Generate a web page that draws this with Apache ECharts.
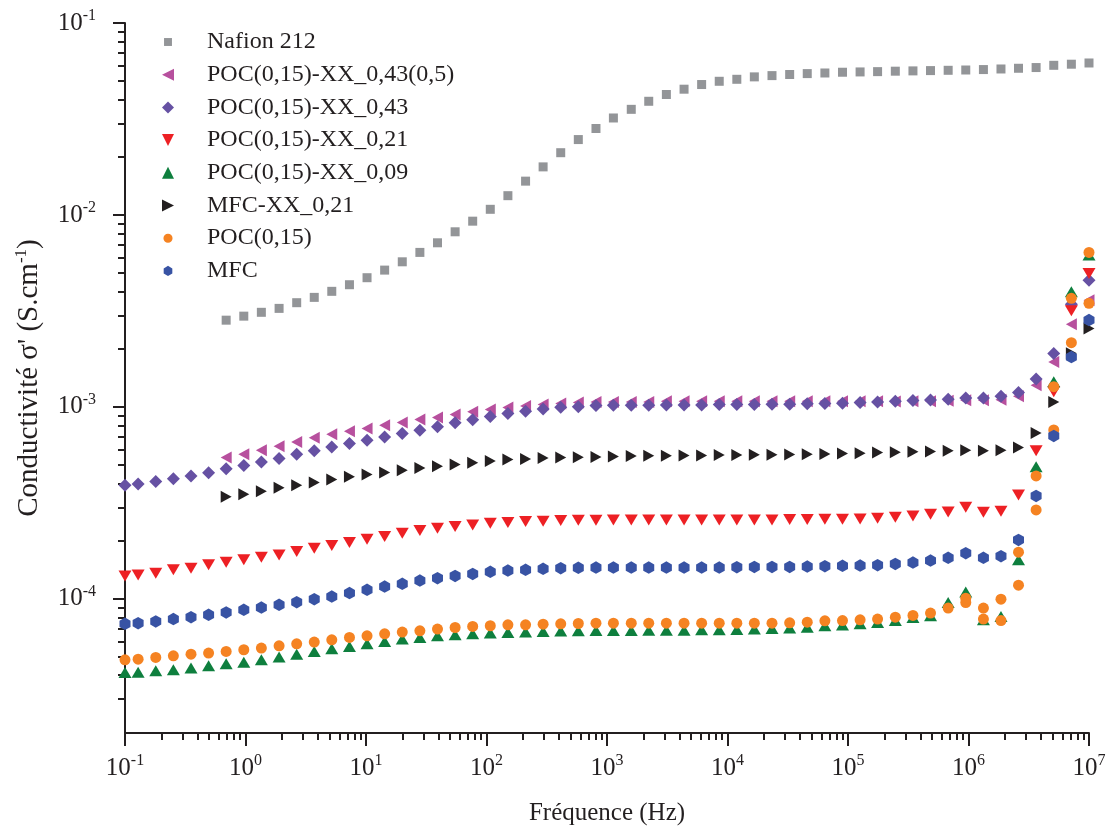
<!DOCTYPE html>
<html><head><meta charset="utf-8">
<script src="https://cdn.jsdelivr.net/npm/echarts@6/dist/echarts.min.js"></script>
<style>html,body{margin:0;padding:0;background:#fff}#c{width:1111px;height:830px}</style>
</head><body><div id="c"></div>
<script>
const FONT = 'Liberation Serif';
const INK = '#231F20';

// Measurement frequencies (Hz)
const frequencies = [0.1, 0.1285, 0.180, 0.252, 0.353, 0.494, 0.691, 0.968, 1.354, 1.90,
  2.66, 3.72, 5.20, 7.29, 10.2, 14.28, 20.0, 28.0, 39.2, 54.9,
  76.8, 107.5, 150.5, 211, 295, 413, 578, 810, 1130, 1590,
  2220, 3110, 4360, 6100, 8540, 11950, 16700, 23400, 32800, 45900,
  64300, 90000, 126000, 176000, 247000, 346000, 484000, 678000, 949000, 1330000,
  1860000, 2600000, 3640000, 5100000, 7140000, 10000000];

// Conductivity (S/cm). Series marked "from index 6" start at frequencies[6].
const nafion212 = [2.83e-3,2.97e-3,3.11e-3,3.26e-3,3.49e-3,3.72e-3,4.00e-3,4.33e-3,4.71e-3,5.16e-3,
  5.70e-3,6.38e-3,7.16e-3,8.17e-3,9.28e-3,1.07e-2,1.26e-2,1.50e-2,1.78e-2,2.11e-2,
  2.47e-2,2.82e-2,3.20e-2,3.55e-2,3.91e-2,4.24e-2,4.52e-2,4.78e-2,4.97e-2,5.09e-2,
  5.24e-2,5.32e-2,5.39e-2,5.45e-2,5.49e-2,5.54e-2,5.56e-2,5.58e-2,5.61e-2,5.63e-2,
  5.65e-2,5.67e-2,5.69e-2,5.72e-2,5.76e-2,5.81e-2,5.86e-2,6.02e-2,6.10e-2,6.19e-2]; // from index 6

const pocXX043_05 = [5.45e-4,5.67e-4,5.95e-4,6.24e-4,6.57e-4,6.90e-4,7.21e-4,7.47e-4,7.72e-4,8.03e-4,
  8.29e-4,8.60e-4,8.81e-4,9.13e-4,9.42e-4,9.69e-4,9.93e-4,1.012e-3,1.029e-3,1.041e-3,
  1.054e-3,1.062e-3,1.06e-3,1.06e-3,1.06e-3,1.07e-3,1.07e-3,1.07e-3,1.07e-3,1.07e-3,
  1.07e-3,1.07e-3,1.07e-3,1.07e-3,1.07e-3,1.07e-3,1.07e-3,1.07e-3,1.067e-3,1.071e-3,
  1.071e-3,1.077e-3,1.084e-3,1.084e-3,1.090e-3,1.137e-3,1.297e-3,1.715e-3,2.695e-3,3.593e-3]; // from index 6

const pocXX043 = [3.91e-4,3.97e-4,4.09e-4,4.22e-4,4.37e-4,4.54e-4,4.76e-4,4.95e-4,5.17e-4,5.38e-4,
  5.66e-4,5.90e-4,6.18e-4,6.45e-4,6.71e-4,6.97e-4,7.27e-4,7.56e-4,7.87e-4,8.26e-4,
  8.58e-4,8.91e-4,9.24e-4,9.50e-4,9.75e-4,9.96e-4,1.002e-3,1.018e-3,1.021e-3,1.021e-3,
  1.021e-3,1.024e-3,1.024e-3,1.024e-3,1.029e-3,1.029e-3,1.029e-3,1.033e-3,1.033e-3,1.037e-3,
  1.041e-3,1.045e-3,1.054e-3,1.062e-3,1.071e-3,1.080e-3,1.087e-3,1.097e-3,1.114e-3,1.114e-3,
  1.137e-3,1.188e-3,1.399e-3,1.897e-3,3.424e-3,4.566e-3];

const pocXX021 = [1.317e-4,1.333e-4,1.360e-4,1.416e-4,1.445e-4,1.503e-4,1.552e-4,1.596e-4,1.648e-4,1.694e-4,
  1.763e-4,1.836e-4,1.895e-4,1.964e-4,2.046e-4,2.110e-4,2.198e-4,2.268e-4,2.334e-4,2.379e-4,
  2.428e-4,2.478e-4,2.496e-4,2.526e-4,2.538e-4,2.556e-4,2.568e-4,2.568e-4,2.577e-4,2.577e-4,
  2.577e-4,2.577e-4,2.577e-4,2.577e-4,2.577e-4,2.577e-4,2.577e-4,2.577e-4,2.587e-4,2.587e-4,
  2.599e-4,2.599e-4,2.609e-4,2.631e-4,2.663e-4,2.704e-4,2.760e-4,2.837e-4,3.001e-4,2.827e-4,
  2.861e-4,3.478e-4,5.916e-4,1.200e-3,3.17e-3,4.96e-3];

const pocXX009 = [4.13e-5,4.15e-5,4.22e-5,4.27e-5,4.36e-5,4.48e-5,4.59e-5,4.68e-5,4.81e-5,4.97e-5,
  5.15e-5,5.32e-5,5.49e-5,5.65e-5,5.83e-5,5.99e-5,6.17e-5,6.29e-5,6.42e-5,6.50e-5,
  6.57e-5,6.63e-5,6.68e-5,6.71e-5,6.76e-5,6.79e-5,6.81e-5,6.84e-5,6.84e-5,6.84e-5,
  6.87e-5,6.87e-5,6.87e-5,6.90e-5,6.90e-5,6.92e-5,6.96e-5,7.00e-5,7.04e-5,7.12e-5,
  7.24e-5,7.30e-5,7.41e-5,7.53e-5,7.71e-5,7.99e-5,8.16e-5,9.57e-5,1.087e-4,7.77e-5,
  8.09e-5,1.596e-4,4.884e-4,1.353e-3,3.979e-3,6.176e-3];

const mfcXX021 = [3.40e-4,3.51e-4,3.64e-4,3.79e-4,3.91e-4,4.04e-4,4.19e-4,4.32e-4,4.45e-4,4.55e-4,
  4.68e-4,4.81e-4,4.91e-4,5.01e-4,5.11e-4,5.23e-4,5.32e-4,5.36e-4,5.41e-4,5.45e-4,
  5.47e-4,5.49e-4,5.52e-4,5.54e-4,5.56e-4,5.56e-4,5.58e-4,5.58e-4,5.61e-4,5.61e-4,
  5.63e-4,5.63e-4,5.65e-4,5.67e-4,5.69e-4,5.72e-4,5.74e-4,5.79e-4,5.81e-4,5.83e-4,
  5.86e-4,5.90e-4,5.95e-4,5.90e-4,5.95e-4,6.15e-4,7.32e-4,1.062e-3,1.904e-3,2.559e-3]; // from index 6

const poc015 = [4.81e-5,4.85e-5,4.95e-5,5.05e-5,5.15e-5,5.22e-5,5.32e-5,5.43e-5,5.54e-5,5.69e-5,
  5.83e-5,5.95e-5,6.12e-5,6.29e-5,6.42e-5,6.57e-5,6.71e-5,6.81e-5,6.96e-5,7.09e-5,
  7.18e-5,7.24e-5,7.32e-5,7.32e-5,7.38e-5,7.41e-5,7.44e-5,7.47e-5,7.47e-5,7.47e-5,
  7.47e-5,7.47e-5,7.47e-5,7.47e-5,7.47e-5,7.47e-5,7.47e-5,7.47e-5,7.50e-5,7.56e-5,
  7.68e-5,7.71e-5,7.77e-5,7.84e-5,8.03e-5,8.19e-5,8.43e-5,8.95e-5,1.008e-4,8.95e-5,
  9.96e-5,1.750e-4,4.368e-4,1.274e-3,3.676e-3,6.38e-3];
const poc015Repeat = [9.57e-5,7.84e-5,7.71e-5,1.178e-4,2.906e-4,7.58e-4,2.159e-3,3.462e-3]; // from index 48

const mfc = [7.41e-5,7.47e-5,7.62e-5,7.84e-5,8.03e-5,8.26e-5,8.49e-5,8.77e-5,9.01e-5,9.31e-5,
  9.61e-5,9.96e-5,1.028e-4,1.071e-4,1.114e-4,1.159e-4,1.197e-4,1.245e-4,1.282e-4,1.317e-4,
  1.349e-4,1.382e-4,1.404e-4,1.416e-4,1.433e-4,1.445e-4,1.450e-4,1.455e-4,1.455e-4,1.455e-4,
  1.455e-4,1.455e-4,1.455e-4,1.455e-4,1.455e-4,1.462e-4,1.467e-4,1.467e-4,1.467e-4,1.473e-4,
  1.480e-4,1.485e-4,1.490e-4,1.497e-4,1.521e-4,1.545e-4,1.582e-4,1.635e-4,1.729e-4,1.635e-4,
  1.668e-4,2.028e-4,3.437e-4,7.056e-4,1.819e-3,2.834e-3];

const xMajorTicks = [0.1, 1, 10, 100, 1e3, 1e4, 1e5, 1e6, 1e7];
const yMajorTicks = [1e-4, 1e-3, 1e-2, 1e-1];
const minorMultipliers = [2, 3, 4, 5, 6, 7, 8, 9];
const xMinorTicks = [], yMinorTicks = [];
[0.1, 1, 10, 100, 1e3, 1e4, 1e5, 1e6].forEach(d => minorMultipliers.forEach(m => xMinorTicks.push(+(d * m).toPrecision(3))));
[1e-5, 1e-4, 1e-3, 1e-2].forEach(d => minorMultipliers.forEach(m => { const v = +(d * m).toPrecision(3); if (v > 2.05e-5) yMinorTicks.push(v); }));

function pairs(start, vals) { return vals.map((v, k) => [frequencies[start + k], v]); }

const HEX = 'path://M50,0 L93.3,25 L93.3,75 L50,100 L6.7,75 L6.7,25 Z';
const TRI_UP = 'path://M50,0 L100,100 L0,100 Z';
const TRI_DOWN = 'path://M0,0 L100,0 L50,100 Z';
const TRI_LEFT = 'path://M0,50 L100,0 L100,100 Z';
const TRI_RIGHT = 'path://M0,0 L100,50 L0,100 Z';
// legend-only icons padded so they draw smaller inside the legend box
const LEG_RECT = 'path://M0,0 M100,100 M17,17 L83,17 L83,83 L17,83 Z';
const LEG_CIRCLE = 'path://M0,0 M100,100 M50,12 A38,38 0 1 1 49.9,12 Z';
const LEG_HEX = 'path://M0,0 M100,100 M50,8 L86,29 L86,71 L50,92 L14,71 L14,29 Z';

function sc(name, data, symbol, size, color, legendIcon) {
  return { type: 'scatter', name, data, symbol, symbolSize: size, symbolKeepAspect: false,
    itemStyle: { color, opacity: 1 }, xAxisIndex: 0, yAxisIndex: 0, clip: false,
    emphasis: { disabled: true }, silent: true, legendIcon };
}

const supRich = {
  b: { fontFamily: FONT, fontSize: 25, lineHeight: 30, color: INK },
  s: { fontFamily: FONT, fontSize: 16, lineHeight: 16, verticalAlign: 'top', color: INK }
};
const expFmt = v => '{b|10}{s|' + Math.round(Math.log10(v)) + '}';

const series = [
  sc('Nafion 212', pairs(6, nafion212), 'rect', 9, '#939598', LEG_RECT),
  sc('POC(0,15)-XX_0,43(0,5)', pairs(6, pocXX043_05), TRI_LEFT, [11, 12], '#B7509E', TRI_LEFT),
  sc('POC(0,15)-XX_0,43', pairs(0, pocXX043), 'diamond', 13, '#6651A3', 'diamond'),
  sc('POC(0,15)-XX_0,21', pairs(0, pocXX021), TRI_DOWN, [13, 11], '#ED2024', TRI_DOWN),
  sc('POC(0,15)-XX_0,09', pairs(0, pocXX009), TRI_UP, [13, 11], '#0E7F3E', TRI_UP),
  sc('MFC-XX_0,21', pairs(6, mfcXX021), TRI_RIGHT, [11, 12], INK, TRI_RIGHT),
  sc('POC(0,15)', pairs(0, poc015).concat(pairs(48, poc015Repeat)), 'circle', 11, '#F58322', LEG_CIRCLE),
  sc('MFC', pairs(0, mfc), HEX, [11, 12.5], '#3853A4', LEG_HEX)
];

const axisLineStyle = { color: INK, width: 2 };

const option = {
  animation: false,
  backgroundColor: '#fff',
  grid: { left: 125, right: 22, top: 23, bottom: 97, containLabel: false, outerBoundsMode: 'none' },
  legend: {
    orient: 'vertical', left: 157, top: 25, itemWidth: 12, itemHeight: 12, itemGap: 8.7,
    data: series.map(s => ({ name: s.name, icon: s.legendIcon })),
    textStyle: { fontFamily: FONT, fontSize: 24, lineHeight: 24, color: INK, padding: [0, 0, 0, 28] },
    selectedMode: false
  },
  xAxis: [
    { type: 'log', logBase: 10, min: 0.1, max: 1e7, gridIndex: 0,
      name: 'Fréquence (Hz)', nameLocation: 'middle', nameGap: 68,
      nameTextStyle: { fontFamily: FONT, fontSize: 25, color: INK },
      axisLine: { show: true, onZero: false, lineStyle: axisLineStyle },
      axisTick: { show: true, length: 13, lineStyle: axisLineStyle, customValues: xMajorTicks },
      axisLabel: { show: true, margin: 20, customValues: xMajorTicks, formatter: expFmt, rich: supRich },
      splitLine: { show: false }, minorTick: { show: false } },
    { type: 'log', logBase: 10, min: 0.1, max: 1e7, gridIndex: 0, position: 'bottom',
      axisLine: { show: false },
      axisTick: { show: true, length: 7, lineStyle: axisLineStyle, customValues: xMinorTicks },
      axisLabel: { show: false }, splitLine: { show: false } }
  ],
  yAxis: [
    { type: 'log', logBase: 10, min: 2e-5, max: 0.1, gridIndex: 0,
      name: "Conductivité σ' (S.cm{s|-1})", nameLocation: 'middle', nameGap: 80, nameRotate: 90,
      nameTextStyle: { fontFamily: FONT, fontSize: 29, lineHeight: 32, color: INK,
        rich: { s: { fontFamily: FONT, fontSize: 17, lineHeight: 17, verticalAlign: 'top', color: INK } } },
      axisLine: { show: true, onZero: false, lineStyle: axisLineStyle },
      axisTick: { show: true, length: 12, lineStyle: axisLineStyle, customValues: yMajorTicks },
      axisLabel: { show: true, margin: 29, customValues: yMajorTicks, formatter: expFmt, rich: supRich },
      splitLine: { show: false }, minorTick: { show: false } },
    { type: 'log', logBase: 10, min: 2e-5, max: 0.1, gridIndex: 0, position: 'left',
      axisLine: { show: false },
      axisTick: { show: true, length: 7, lineStyle: axisLineStyle, customValues: yMinorTicks },
      axisLabel: { show: false }, splitLine: { show: false } }
  ],
  series: series.map(s => { const o = Object.assign({}, s); delete o.legendIcon; return o; })
};

const chart = echarts.init(document.getElementById('c'), null, { renderer: 'canvas' });
chart.setOption(option);
</script>
</body></html>
